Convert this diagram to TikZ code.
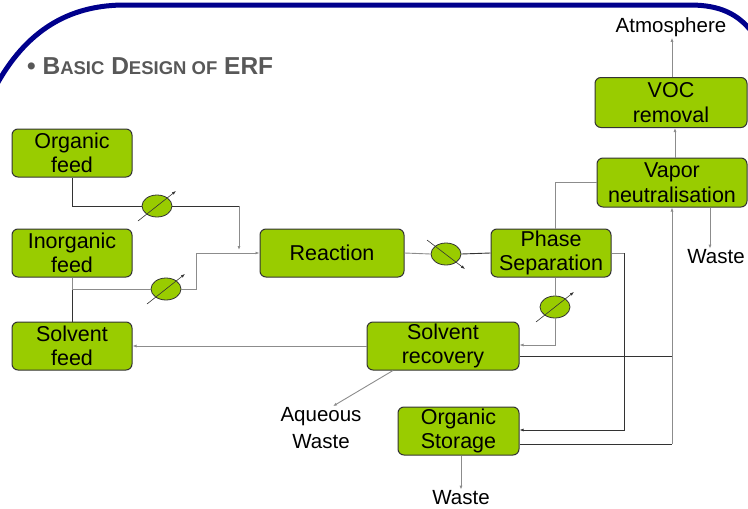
\documentclass[tikz,border=0pt]{standalone}
\usepackage{fontspec}
\setmainfont{Liberation Sans}
\usetikzlibrary{shapes.geometric,arrows.meta,positioning}
\definecolor{boxgreen}{RGB}{153,204,0}
\definecolor{framenavy}{RGB}{0,0,140}
\definecolor{titlegray}{RGB}{88,88,88}
\newcommand\smallcap[1]{{\fontsize{18.5}{20}\selectfont #1}}
\begin{document}
\begin{tikzpicture}[x=1pt,y=-1pt,
  box/.style = {rectangle,rounded corners=6pt,draw=black!80,line width=1pt,fill=boxgreen,minimum width=120pt,minimum height=48pt,inner sep=0pt,align=center,font=\fontsize{21.5}{24.5}\selectfont},
  lbl/.style = {inner sep=1pt,align=center,font=\fontsize{20.5}{27}\selectfont},
  valve/.style = {ellipse,draw=black!80,line width=0.8pt,fill=boxgreen,minimum width=30pt,minimum height=22pt,inner sep=0pt},
  blk/.style = {draw=black!80,line width=0.9pt},
  gry/.style = {draw=black!45,line width=0.9pt},
  flow/.style = {-{Latex[length=4pt,width=3pt]}}]
\useasboundingbox (0,0) rectangle (748,509);
\draw[framenavy,line width=5pt] (-3,84) .. controls (30,25) and (75,5) .. (125,5) -- (690,5) .. controls (720,5) and (738,14) .. (752,32);
\node[anchor=base west,text=titlegray,font=\bfseries\fontsize{24.5}{26}\selectfont,inner sep=0pt] (title) at (27,74) {\textbullet\ B\smallcap{ASIC} D\smallcap{ESIGN OF} ERF};
\node[box] (ofeed) at (72,153) {Organic\\feed};
\node[box] (ifeed) at (72,253) {Inorganic\\feed};
\node[box] (sfeed) at (72,346) {Solvent\\feed};
\node[box,minimum width=144pt] (react) at (332,253) {Reaction};
\node[box] (phase) at (551,253) {Phase\\Separation};
\node[box,minimum width=150pt,minimum height=49pt] (vapor) at (672,182.5) {Vapor\\neutralisation};
\node[box,minimum width=152pt,minimum height=50pt] (voc) at (671,102.5) {VOC\\removal};
\node[box,minimum width=152pt] (srec) at (443,346) {Solvent\\recovery};
\node[box,minimum width=121pt] (ostor) at (458.5,431) {Organic\\Storage};
\node[lbl] (atm) at (671,27) {Atmosphere};
\node[lbl] (wasteR) at (716,257) {Waste};
\node[lbl] (aq) at (321,428) {Aqueous\\Waste};
\node[lbl] (wasteB) at (461,498) {Waste};
\node[valve] (v1) at (157,206) {};
\node[valve] (v2) at (166,289) {};
\node[valve] (v3) at (446,254) {};
\node[valve] (v4) at (555,307) {};
\foreach \v in {v1,v2,v4} \draw[blk,line width=0.6pt,flow] ([shift={(-19,15)}]\v.center) -- ([shift={(19,-15)}]\v.center);
\draw[blk,line width=0.6pt,flow] ([shift={(-19,-14)}]v3.center) -- ([shift={(19,15)}]v3.center);
\coordinate (bendA) at (239,206);
\coordinate (mergeA) at (239,250);
\coordinate (splitB) at (72,289);
\coordinate (bendB) at (196,289);
\coordinate (bendC) at (624,253);
\coordinate (bendD) at (624,430);
\coordinate (bendE) at (672,356);
\coordinate (bendF) at (672,444);
\draw[blk] (ofeed.south) |- (v1.west);
\draw[blk] (v1.east) -- (bendA);
\draw[gry,flow] (bendA) -- (mergeA);
\draw[gry] (ifeed.south) -- (splitB);
\draw[blk] (splitB) -- (sfeed.north);
\draw[gry] (splitB) -- (v2.west);
\draw[gry,flow] (v2.east) -- (bendB) |- (react.west);
\draw[gry] (react.east) -- (v3.west);
\draw[blk] (v3.east) -- (phase.west);
\draw[gry] (phase.east) -- (bendC);
\draw[blk,flow] (bendC) -- (bendD) -- (ostor.east |- bendD);
\draw[gry] ([xshift=4pt]phase.north) |- (vapor.west);
\draw[gry] ([xshift=4pt]phase.south) -- (v4.north);
\draw[gry,flow] (v4.south) |- ([yshift=1pt]srec.east);
\draw[blk] ([yshift=-10pt]srec.east) -- (bendE);
\draw[blk] ([yshift=-13pt]ostor.east) -- (bendF);
\draw[gry,flow] (bendF) -- (vapor.south);
\draw[gry,flow] ([xshift=3pt]vapor.north) -- ([xshift=4pt]voc.south);
\draw[gry,flow] ([xshift=1pt]voc.north) -- ([xshift=1pt]atm.south);
\draw[gry,flow] ([xshift=38pt]vapor.south) -- ([xshift=-6pt]wasteR.north);
\draw[gry,flow] (srec.west) -- (sfeed.east);
\draw[gry,flow] ([xshift=-50pt]srec.south) -- ([xshift=12pt]aq.north);
\draw[gry,flow] ([xshift=2.5pt]ostor.south) -- (wasteB.north);
\end{tikzpicture}
\end{document}
